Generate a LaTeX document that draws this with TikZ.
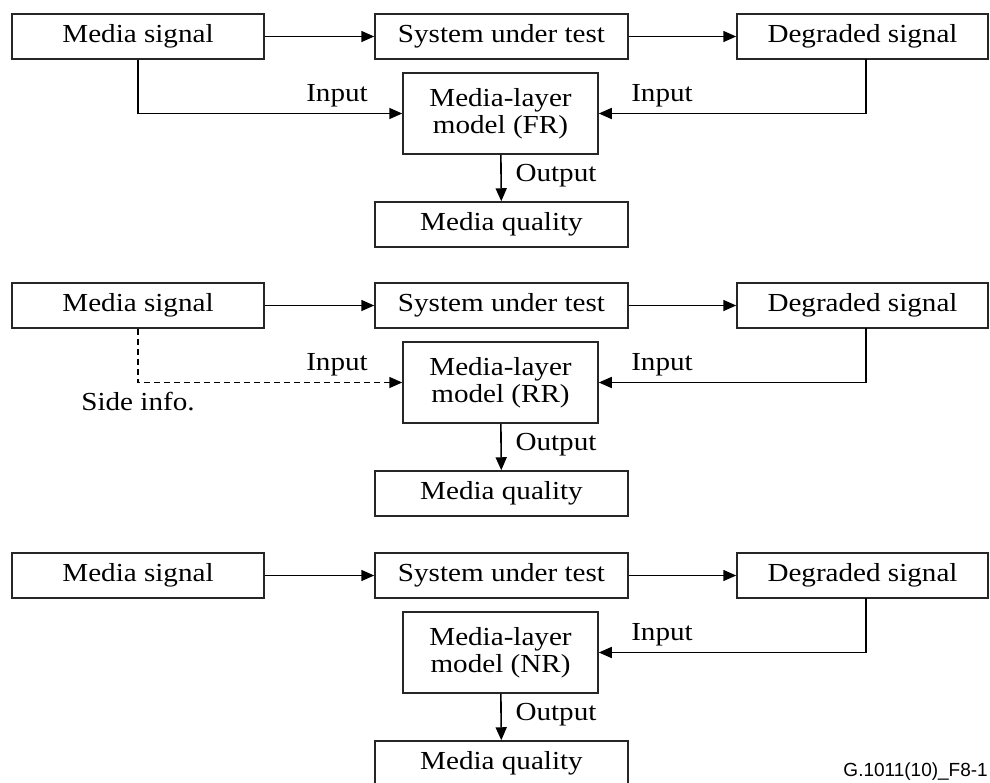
\documentclass[tikz,border=0pt]{standalone}
\usepackage{fontspec}
\setmainfont[FakeStretch=1.12]{Liberation Serif}
\newfontfamily\footfont{Liberation Sans}
\usetikzlibrary{arrows.meta}
\tikzset{
  box/.style={draw=black!85, line width=1.5pt, rectangle, inner sep=0pt, font=\fontsize{26}{27}\selectfont},
  lbl/.style={inner sep=0pt, font=\fontsize{26}{27}\selectfont},
  conn/.style={line width=1.6pt, -{Triangle[length=13pt,width=11pt]}},
  dconn/.style={conn, dashed, dash pattern=on 6pt off 4pt}
}
\begin{document}
\begin{tikzpicture}[x=1pt,y=-1pt]
\useasboundingbox (0,0) rectangle (990,782);
\foreach \p/\off/\lab in {a/0/FR,b/269/RR,c/539/NR}{
  \node[box, minimum width=252pt, minimum height=45pt] (ms\p) at (138,36.5+\off) {Media signal};
  \node[box, minimum width=253pt, minimum height=45pt] (sut\p) at (501.5,36.5+\off) {System under test};
  \node[box, minimum width=251pt, minimum height=45pt] (deg\p) at (862.5,36.5+\off) {Degraded signal};
  \node[box, minimum width=195pt, minimum height=81pt, align=center] (mod\p) at (500.5,113.5+\off) {Media-layer\\model (\lab)};
  \node[box, minimum width=253pt, minimum height=45pt] (mq\p) at (501.5,224.5+\off) {Media quality};
  \draw[conn] (ms\p) -- (sut\p);
  \draw[conn] (sut\p) -- (deg\p);
  \draw[conn] (mod\p) -- (mq\p);
  \node[lbl] (out\p) at (556,176+\off) {Output};
  \coordinate (dd\p) at (866,59+\off);
  \draw[conn] (dd\p) |- (mod\p.east);
  \node[lbl] (inr\p) at (662,96+\off) {Input};
}
\draw[conn] (msa.south) |- (moda.west);
\node[lbl] (inla) at (337,96) {Input};
\draw[dconn] (msb.south) |- (modb.west);
\node[lbl] (inlb) at (337,96+269) {Input};
\node[lbl] (side) at (138,402) {Side info.};
\node[anchor=south east, inner sep=0pt, font=\footfont\fontsize{19}{21}\selectfont] (foot) at (988,781) {G.1011(10)\_F8-1};
\end{tikzpicture}
\end{document}
